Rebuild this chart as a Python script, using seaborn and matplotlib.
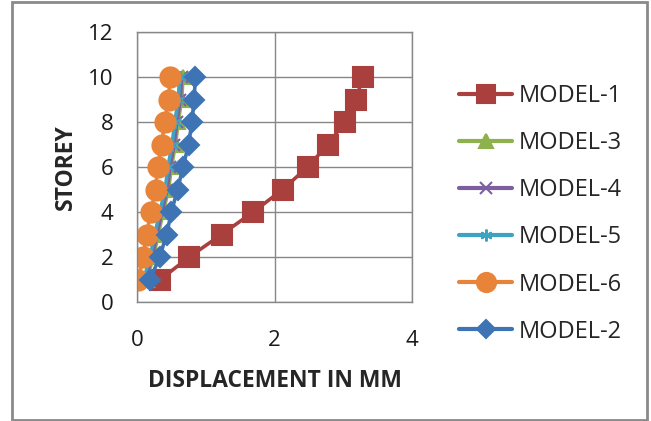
import matplotlib
matplotlib.use("Agg")
import matplotlib.pyplot as plt
import seaborn as sns
import pandas as pd
from matplotlib.patches import Rectangle
from matplotlib.lines import Line2D

storey = [1, 2, 3, 4, 5, 6, 7, 8, 9, 10]
model1 = [0.34, 0.76, 1.23, 1.69, 2.12, 2.48, 2.78, 3.02, 3.19, 3.28]
model3 = [0.14, 0.24, 0.31, 0.38, 0.46, 0.50, 0.56, 0.60, 0.65, 0.67]
model4 = [0.12, 0.22, 0.29, 0.36, 0.44, 0.48, 0.54, 0.58, 0.63, 0.65]
model5 = [0.10, 0.19, 0.26, 0.33, 0.41, 0.45, 0.51, 0.55, 0.60, 0.62]
model6 = [0.02, 0.09, 0.14, 0.20, 0.27, 0.30, 0.36, 0.40, 0.46, 0.48]
model2 = [0.19, 0.33, 0.43, 0.50, 0.59, 0.67, 0.75, 0.80, 0.83, 0.85]
models = ["MODEL-1", "MODEL-3", "MODEL-4", "MODEL-5", "MODEL-6", "MODEL-2"]
series = [model1, model3, model4, model5, model6, model2]

rows = []
for name, vals in zip(models, series):
    for s, v in zip(storey, vals):
        rows.append({"model": name, "disp": v, "storey": s})
df = pd.DataFrame(rows)

colors = {"MODEL-1": "#A9403D", "MODEL-3": "#8DB14C", "MODEL-4": "#7D5FA0",
          "MODEL-5": "#3CA3C2", "MODEL-6": "#E8843A", "MODEL-2": "#3F74B4"}
markers = {"MODEL-1": "s", "MODEL-3": "^", "MODEL-4": "x", "MODEL-5": (6, 2, 0),
           "MODEL-6": "o", "MODEL-2": "D"}
msizes = {"MODEL-1": 14, "MODEL-3": 10, "MODEL-4": 9, "MODEL-5": 9,
          "MODEL-6": 14.5, "MODEL-2": 10}

sns.set_style("white")
plt.rcParams["font.family"] = ["Open Sans", "DejaVu Sans"]

fig = plt.figure(figsize=(6.51, 4.21), dpi=100)
ax = fig.add_axes([137/651, 1 - 302/421, (412-137)/651, (302-32)/421])

for name in models:
    sub = df[df["model"] == name]
    sns.lineplot(data=sub, x="disp", y="storey", color=colors[name], marker=markers[name],
                 markersize=msizes[name], linewidth=2.6, markeredgecolor=colors[name],
                 markeredgewidth=1.5, sort=False, estimator=None, ax=ax, legend=False)

ax.set_xlim(0, 4)
ax.set_ylim(0, 12)
ax.set_xticks([0, 2, 4])
ax.set_yticks([0, 2, 4, 6, 8, 10, 12])
ax.grid(True, color="#878787", linewidth=1.0)
for sp in ax.spines.values():
    sp.set_color("#878787")
    sp.set_linewidth(1.0)
ax.tick_params(axis="both", length=0, labelsize=16, colors="#1a1a1a")
ax.tick_params(axis="y", pad=17)
ax.tick_params(axis="x", pad=20)
ax.set_xlabel("DISPLACEMENT IN MM", fontsize=16.5, fontweight="bold", labelpad=13)
ax.set_ylabel("STOREY", fontsize=16.5, fontweight="bold", labelpad=7)

handles = [Line2D([0], [0], color=colors[m], marker=markers[m], markersize=msizes[m] * 0.95,
                  markeredgecolor=colors[m], markeredgewidth=1.5, linewidth=3) for m in models]
fig.legend(handles, models, loc="upper left", bbox_to_anchor=(459/651, 1 - 84/421),
           frameon=False, fontsize=17, handlelength=2.25, handletextpad=0.3,
           labelspacing=0.98, borderaxespad=0, borderpad=0)

fig.patches.append(Rectangle((12/651, 1/421), (647-12)/651, (420-2)/421,
                             transform=fig.transFigure, fill=False,
                             edgecolor="#8a8a8a", linewidth=2))
fig.savefig("out.png", dpi=100)
